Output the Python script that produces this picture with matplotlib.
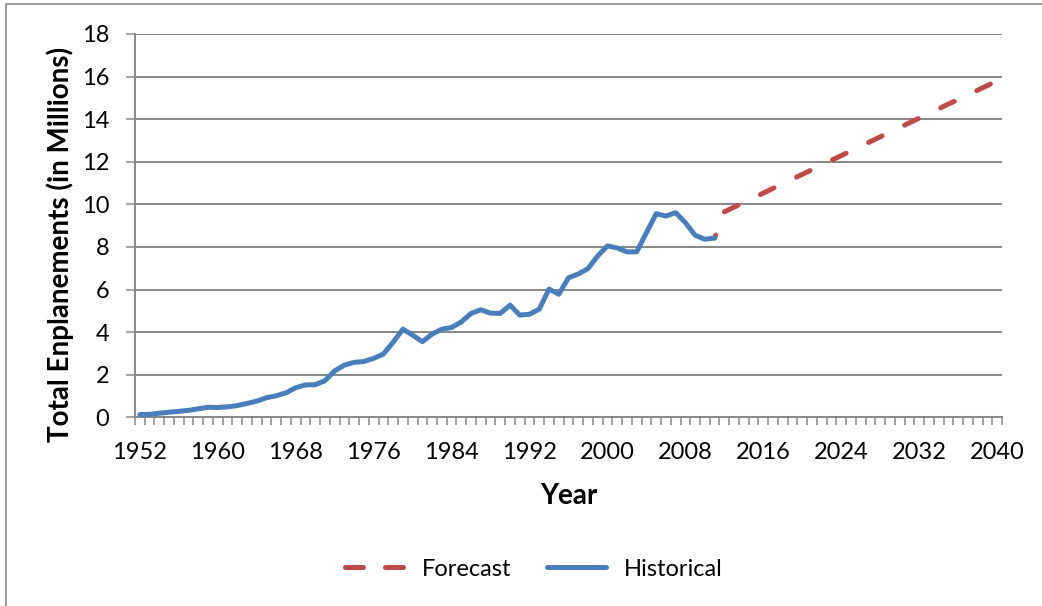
import numpy as np
import matplotlib
matplotlib.use("Agg")
import matplotlib.pyplot as plt
from matplotlib.lines import Line2D
from matplotlib.patches import Rectangle

# Data (millions of enplanements)
hist_years = list(range(1952, 2012))
hist_values = [0.13, 0.14, 0.19, 0.24, 0.28, 0.33, 0.40, 0.47, 0.46, 0.49,
               0.55, 0.65, 0.76, 0.92, 1.01, 1.15, 1.39, 1.52, 1.53, 1.72,
               2.18, 2.45, 2.58, 2.62, 2.77, 2.97, 3.53, 4.14, 3.86, 3.55,
               3.91, 4.14, 4.22, 4.48, 4.88, 5.05, 4.89, 4.88, 5.27, 4.80,
               4.84, 5.08, 6.02, 5.78, 6.55, 6.73, 6.98, 7.58, 8.05, 7.95,
               7.77, 7.77, 8.67, 9.56, 9.45, 9.61, 9.14, 8.55, 8.36, 8.42]

fc_years = list(range(2011, 2041))
fc_values = [8.42, 9.65, 9.87, 10.09, 10.31, 10.53, 10.75, 10.97, 11.19, 11.41,
             11.63, 11.85, 12.07, 12.29, 12.51, 12.73, 12.95, 13.17, 13.39, 13.61,
             13.83, 14.05, 14.27, 14.49, 14.71, 14.92, 15.14, 15.36, 15.58, 15.80]

year_labels = list(range(1952, 2041, 8))
y_ticks = list(range(0, 19, 2))

# Colours and font
BLUE = '#4A7EBB'
RED = '#BE4B48'
GRAY = '#8A8A8A'
plt.rcParams['font.family'] = ['Lato', 'DejaVu Sans']
FS = 17
FS_TITLE = 20

W, H = 1042, 606
fig = plt.figure(figsize=(W / 100, H / 100), dpi=100)
ax = fig.add_axes([135 / W, 1 - 417.3 / H, (1002 - 135) / W, (417.3 - 34) / H])

# forecast first so historical sits on top
ax.plot(fc_years, fc_values, color=RED, lw=3.6, linestyle=(2.4, (3, 5)),
        dash_capstyle='round', zorder=3)
hist_line, = ax.plot(hist_years, hist_values, color=BLUE, lw=3.6,
                     solid_capstyle='round', solid_joinstyle='round', label='Historical', zorder=4)

ax.set_xlim(1951.5, 2040.5)
ax.set_ylim(0, 18)
ax.set_yticks(y_ticks)
ax.set_xticks(year_labels)
ax.set_xticks(np.arange(1951.5, 2041, 1), minor=True)

ax.grid(axis='y', color=GRAY, lw=1.45, zorder=0)
ax.set_axisbelow(True)
for s in ['top', 'right']:
    ax.spines[s].set_visible(False)
for s in ['left', 'bottom']:
    ax.spines[s].set_color(GRAY)
    ax.spines[s].set_linewidth(1.45)

ax.tick_params(axis='y', direction='out', length=6.5, width=1.1, color=GRAY,
               labelsize=FS, pad=12)
ax.tick_params(axis='x', which='major', length=0, labelsize=FS, pad=18)
ax.tick_params(axis='x', which='minor', direction='out', length=5.5, width=1.1, color=GRAY)

# axis titles
fig.text(60 / W, 1 - 244 / H, 'Total Enplanements (in Millions)', rotation=90,
         ha='center', va='center', fontsize=FS_TITLE, fontweight='bold')
fig.text(568.5 / W, 1 - 496 / H, 'Year', ha='center', va='center',
         fontsize=FS_TITLE, fontweight='bold')

# legend: forecast sample shows two whole dashes
fc_handle = Line2D([], [], color=RED, lw=3.6, linestyle=(0, (3.6, 4.4)),
                   dash_capstyle='round', label='Forecast')
fig.legend(handles=[fc_handle, hist_line], loc='center', bbox_to_anchor=(534 / W, 1 - 569 / H),
           ncol=2, frameon=False, fontsize=FS, handlelength=2.5, handletextpad=0.75,
           columnspacing=1.5)

# chart border
fig.patches.append(Rectangle((6 / W, -0.1), 2, 1 - 4 / H + 0.1, transform=fig.transFigure,
                             fill=False, edgecolor=GRAY, lw=1.2))

fig.savefig('out.png', dpi=100)
